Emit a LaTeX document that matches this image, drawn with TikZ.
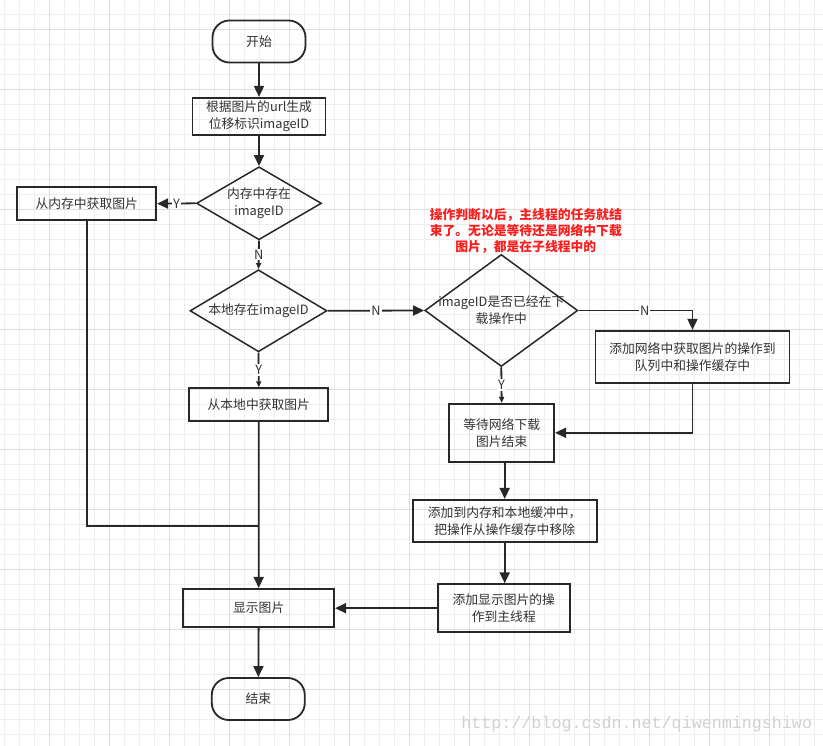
\documentclass[tikz,border=0pt]{standalone}
\usepackage{fontspec}
\setmainfont{Noto Sans CJK SC}
\newfontfamily\markfont{Liberation Mono}
\usepackage{tikz}
\usetikzlibrary{arrows.meta, shapes.geometric}
\definecolor{encre}{RGB}{51,51,51}
\definecolor{trait}{RGB}{40,40,40}
\definecolor{grille}{RGB}{238,238,238}
\definecolor{grillefort}{RGB}{222,222,222}
\definecolor{rouge}{RGB}{250,30,30}

\tikzset{
  txt/.style={font=\fontsize{12.8}{17}\selectfont, text=encre, align=center},
  debutfin/.style={txt, draw=trait, line width=1.8pt, rounded corners=17pt},
  boite/.style={txt, draw=trait, line width=1.8pt, inner sep=0pt},
  choix/.style={diamond, draw=trait, line width=1.5pt, inner sep=0pt},
  fleche/.style={draw=trait, line width=1.8pt, -{Triangle[length=11pt,width=10pt]}},
  petite/.style={draw=trait, line width=1.8pt, -{Triangle[length=6pt,width=5pt]}},
  lien/.style={draw=trait, line width=1.8pt},
  etiq/.style={font=\fontsize{12.8}{14}\selectfont, text=encre, fill=white, inner sep=1pt},
}

\begin{document}
\begin{tikzpicture}[x=1pt, y=-1pt]
  \useasboundingbox (0,0) rectangle (823,746);
  \fill[white] (0,0) rectangle (823,746);
  % grille de fond
  \foreach \gx in {4.7,19.7,...,823} \draw[grille, line width=0.8pt] (\gx,0) -- (\gx,746);
  \foreach \gy in {14.7,29.7,...,746} \draw[grille, line width=0.8pt] (0,\gy) -- (823,\gy);
  \foreach \gx in {49.3,109.3,...,823} \draw[grillefort, line width=0.9pt] (\gx,0) -- (\gx,746);
  \foreach \gy in {29.3,89.3,...,746} \draw[grillefort, line width=0.9pt] (0,\gy) -- (823,\gy);

  % filigrane
  \node[font=\markfont\fontsize{16.7}{18}\selectfont, text=black!18, inner sep=0pt] (filigrane) at (636.7,724) {http://blog.csdn.net/qiwenmingshiwo};

  % colonne principale
  \node[debutfin, minimum width=93pt, minimum height=42pt] (debut) at (259,41.5) {开始};
  \node[boite, minimum width=133pt, minimum height=37pt] (genid) at (259,116.3) {根据图片的url生成\\位移标识imageID};
  \node[choix, minimum width=125pt, minimum height=73pt, label={[txt]center:内存中存在\\imageID}] (memoire) at (259,203.3) {};
  \node[boite, minimum width=139pt, minimum height=33pt] (memget) at (86.7,203.7) {从内存中获取图片};
  \node[choix, minimum width=137pt, minimum height=82pt, label={[txt]center:本地存在imageID}] (local) at (258.5,310.8) {};
  \node[boite, minimum width=139pt, minimum height=33pt] (localget) at (258.8,404.7) {从本地中获取图片};
  \node[boite, minimum width=151pt, minimum height=38pt] (affiche) at (258.7,607.8) {显示图片};
  \node[debutfin, minimum width=93pt, minimum height=42pt] (fin) at (258.3,699) {结束};

  % branche reseau
  \node[choix, minimum width=153pt, minimum height=112pt, label={[txt]center:imageID是否已经在下\\载操作中}] (encours) at (501.3,310.5) {};
  \node[boite, minimum width=194pt, minimum height=52pt] (reseau) at (692.5,356.8) {添加网络中获取图片的操作到\\队列中和操作缓存中};
  \node[boite, minimum width=105pt, minimum height=58pt] (attente) at (501.7,432.8) {等待网络下载\\图片结束};
  \node[boite, minimum width=184pt, minimum height=42pt] (cache) at (504.7,520.8) {添加到内存和本地缓冲中，\\把操作从操作缓存中移除};
  \node[boite, minimum width=132pt, minimum height=48pt] (principal) at (503.8,608.2) {添加显示图片的操\\作到主线程};

  % remarque en rouge
  \node[font=\bfseries\fontsize{12.8}{16}\selectfont, text=rouge, align=center] (remarque) at (525.8,231) {操作判断以后，主线程的任务就结\\束了。无论是等待还是网络中下载\\图片，都是在子线程中的};

  \coordinate (jonction) at (259,526);

  % liaisons
  \draw[fleche] (debut) -- (genid);
  \draw[fleche] (genid) -- (memoire);
  \draw[fleche] (memoire.west) -- (memget.east) node[etiq, midway] {Y};
  \draw[petite] (memoire.south) -- (local.north) node[etiq, midway] {N};
  \draw[fleche] (local.east) -- (encours.west) node[etiq, midway] {N};
  \draw[petite] (local.south) -- (localget.north) node[etiq, midway] {Y};
  \draw[lien] (memget.south) |- (jonction);
  \draw[fleche] (localget.south) -- (affiche.north);
  \draw[fleche] (encours.east) -| (reseau.north) node[etiq, pos=0.29] {N};
  \draw[petite] (encours.south) -- (attente.north) node[etiq, midway] {Y};
  \draw[fleche] (reseau.south) |- (attente.east);
  \draw[fleche] (attente.south -| cache.north) -- (cache.north);
  \draw[fleche] (cache.south) -- (cache.south |- principal.north);
  \draw[fleche] (principal.west) -- (principal.west -| affiche.east);
  \draw[fleche] (affiche) -- (fin);
\end{tikzpicture}
\end{document}
